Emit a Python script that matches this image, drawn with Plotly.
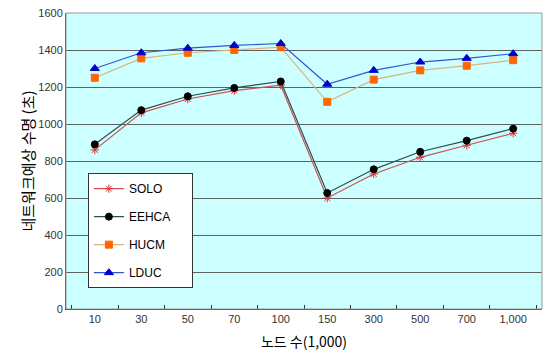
import plotly.graph_objects as go

categories = ["10", "30", "50", "70", "100", "150", "300", "500", "700", "1,000"]
solo = [860, 1060, 1135, 1180, 1210, 600, 730, 820, 885, 950]
eehca = [890, 1075, 1150, 1195, 1230, 627, 755, 850, 910, 975]
hucm = [1250, 1355, 1385, 1400, 1415, 1120, 1240, 1290, 1315, 1345]
lduc = [1300, 1385, 1410, 1425, 1435, 1215, 1290, 1335, 1355, 1380]
y_ticks = [0, 200, 400, 600, 800, 1000, 1200, 1400, 1600]

series = [
    ("SOLO", solo, "#D05050", "#E03030", "asterisk-open", 7),
    ("EEHCA", eehca, "#2F4F4F", "#000000", "circle", 7),
    ("HUCM", hucm, "#D9B380", "#FF6600", "square", 7),
    ("LDUC", lduc, "#3355CC", "#0000CC", "triangle-up", 8),
]

fig = go.Figure()
for i, (name, vals, lc, mc, sym, ms) in enumerate(series):
    fig.add_trace(go.Scatter(
        x=categories, y=vals, name=name + "     ", mode="lines+markers",
        line=dict(color=lc, width=1.2),
        marker=dict(color=mc, symbol=sym, size=ms, line=dict(color=mc, width=1)),
        legendgroup=f"g{i}",
    ))

fig.update_layout(
    width=543, height=356,
    margin=dict(l=66, r=1, t=13, b=47),
    paper_bgcolor="white", plot_bgcolor="#CCFFFF",
    font=dict(family="Liberation Sans, Arial, sans-serif", size=11, color="#333333"),
    showlegend=True,
    legend=dict(
        x=0.046, y=0.459, xanchor="left", yanchor="top",
        bgcolor="white", bordercolor="#333333", borderwidth=1,
        font=dict(size=12, color="#000000", family="Liberation Sans, Arial, sans-serif"),
        tracegroupgap=9, traceorder="grouped", itemwidth=30,
    ),
    xaxis=dict(
        type="category", categoryorder="array", categoryarray=categories,
        tickson="boundaries", ticks="inside", ticklen=4, tickcolor="#333333",
        showline=True, linecolor="#333333", linewidth=1, mirror=False,
        showgrid=False, tickfont=dict(size=11, color="#333333"),
        title=dict(text="노드 수(1,000)", font=dict(family="Noto Sans CJK KR", size=14, color="#000000"), standoff=12),
    ),
    yaxis=dict(
        range=[0, 1600], tickvals=y_ticks, showgrid=True, gridcolor="#606060", gridwidth=1,
        showline=True, linecolor="#444444", linewidth=1, ticks="", zeroline=False,
        tickfont=dict(size=11, color="#333333"),
        title=dict(text="네트워크예상 수명 (초)", font=dict(family="Noto Sans CJK KR", size=15, color="#000000"), standoff=0),
    ),
)
fig.add_shape(type="rect", xref="paper", yref="paper", x0=0, y0=0, x1=1, y1=1,
              line=dict(color="#999999", width=1), layer="above")

fig.write_html("out.html")
